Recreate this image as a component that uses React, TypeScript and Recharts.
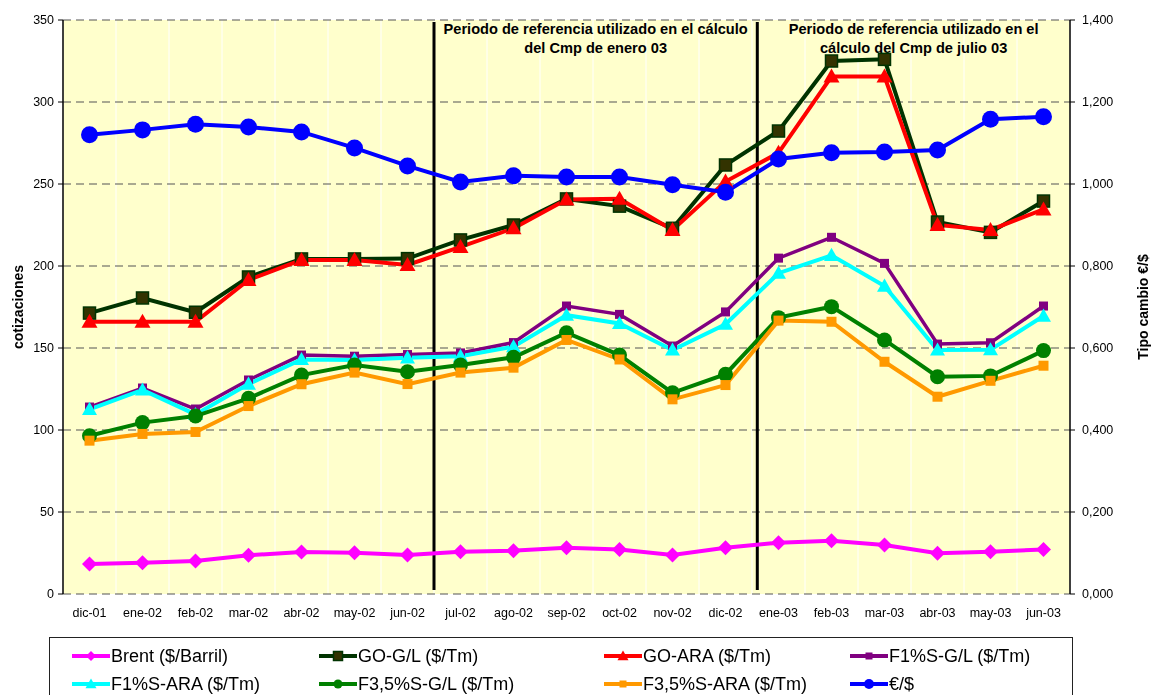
import React from 'react';
import { LineChart, Line, XAxis, YAxis, CartesianGrid, ReferenceLine, ReferenceArea, Legend } from 'recharts';

const months = ['dic-01','ene-02','feb-02','mar-02','abr-02','may-02','jun-02','jul-02','ago-02','sep-02','oct-02','nov-02','dic-02','ene-03','feb-03','mar-03','abr-03','may-03','jun-03'];
const brent = [18.3,19.1,20.1,23.6,25.6,25.2,23.8,25.8,26.4,28.2,27.2,23.8,28.2,31.3,32.5,29.9,24.8,25.8,27.2];
const goGL = [171.3,180.5,171.8,193.3,204.3,204.3,204.5,215.9,225,240.9,236.5,223,261.6,282.3,325,326,226.8,220.5,239.6];
const goARA = [166,166,166,191.5,203.7,203.7,200.6,211.6,223,240.5,241,222,251.5,269,315.5,315.5,225,222,234.5];
const f1GL = [114,125.6,112.8,130.5,145.7,145,146,147,153.3,175.6,170.5,151.2,172,204.8,217.5,201.6,152.4,153.2,175.6];
const f1ARA = [112.6,124.4,109.5,128,143,142.7,144,145,150.8,170,165,148.8,164.5,195.6,206.5,187.8,148.8,149,169.5];
const f35GL = [96.5,104.5,108.5,119.3,133.5,139.6,135.5,139.6,144.3,159.3,145.7,122.7,134,168.5,175.2,154.9,132.5,133,148.4];
const f35ARA = [93.5,97.6,98.8,114.6,127.9,135,128,135,138,154.9,143,118.7,127.4,166.7,166,141.6,120.3,130,139.2];
const euroDollar = [1.120,1.132,1.146,1.139,1.127,1.088,1.044,1.005,1.020,1.017,1.017,0.998,0.980,1.061,1.076,1.078,1.083,1.158,1.164];

const leftTicks = [0, 50, 100, 150, 200, 250, 300, 350];
const rightTicks = [0, 0.2, 0.4, 0.6, 0.8, 1.0, 1.2, 1.4];
const periodBounds = [6.5, 12.6];
const periodTexts = [
  ['Periodo de referencia utilizado en el cálculo', 'del Cmp de enero 03'],
  ['Periodo de referencia utilizado en el', 'cálculo del Cmp de julio 03'],
];
const leftTitle = 'cotizaciones';
const rightTitle = 'Tipo cambio €/$';

const data = months.map((m, i) => ({
  i,
  month: m,
  brent: brent[i],
  goGL: goGL[i],
  goARA: goARA[i],
  f1GL: f1GL[i],
  f1ARA: f1ARA[i],
  f35GL: f35GL[i],
  f35ARA: f35ARA[i],
  eur: euroDollar[i],
}));

type Shape = 'diamond' | 'square' | 'triangle' | 'circle';

const series: {
  key: string; name: string; color: string; fill: string; shape: Shape; size: number; lsize: number; width: number; axis: string; mstroke?: string;
}[] = [
  { key: 'brent', name: 'Brent ($/Barril)', color: '#FF00FF', fill: '#FF00FF', shape: 'diamond', size: 7.5, lsize: 5, width: 4, axis: 'left' },
  { key: 'goGL', name: 'GO-G/L ($/Tm)', color: '#003300', fill: '#333300', shape: 'square', size: 6, lsize: 4.5, width: 4, axis: 'left', mstroke: '#003300' },
  { key: 'goARA', name: 'GO-ARA ($/Tm)', color: '#FF0000', fill: '#FF0000', shape: 'triangle', size: 8, lsize: 5.5, width: 4, axis: 'left' },
  { key: 'f1GL', name: 'F1%S-G/L ($/Tm)', color: '#800080', fill: '#800080', shape: 'square', size: 4.5, lsize: 3.5, width: 3.5, axis: 'left' },
  { key: 'f1ARA', name: 'F1%S-ARA ($/Tm)', color: '#00FFFF', fill: '#00FFFF', shape: 'triangle', size: 7.5, lsize: 5.5, width: 4, axis: 'left' },
  { key: 'f35GL', name: 'F3,5%S-G/L ($/Tm)', color: '#008000', fill: '#008000', shape: 'circle', size: 7.5, lsize: 4.5, width: 4, axis: 'left' },
  { key: 'f35ARA', name: 'F3,5%S-ARA ($/Tm)', color: '#FF9900', fill: '#FF9900', shape: 'square', size: 5, lsize: 3.5, width: 4, axis: 'left' },
  { key: 'eur', name: '€/$', color: '#0000FF', fill: '#0000FF', shape: 'circle', size: 8.5, lsize: 5, width: 4, axis: 'right' },
];

function Marker({ shape, cx, cy, size, fill, stroke }: { shape: Shape; cx: number; cy: number; size: number; fill: string; stroke?: string }) {
  const sw = stroke ? 1.5 : 0;
  const st = stroke || 'none';
  if (shape === 'circle') return <circle cx={cx} cy={cy} r={size} fill={fill} stroke={st} strokeWidth={sw} />;
  if (shape === 'square') return <rect x={cx - size} y={cy - size} width={size * 2} height={size * 2} fill={fill} stroke={st} strokeWidth={sw} />;
  if (shape === 'diamond') return <polygon points={`${cx},${cy - size} ${cx + size},${cy} ${cx},${cy + size} ${cx - size},${cy}`} fill={fill} stroke={st} strokeWidth={sw} />;
  return <polygon points={`${cx},${cy - size} ${cx + size},${cy + size * 0.75} ${cx - size},${cy + size * 0.75}`} fill={fill} stroke={st} strokeWidth={sw} />;
}

const makeDot = (s: typeof series[number]) => (props: any) => {
  const { cx, cy, index } = props;
  if (cx == null || cy == null) return <g key={`d-${s.key}-${index}`} />;
  return (
    <g key={`d-${s.key}-${index}`}>
      <Marker shape={s.shape} cx={cx} cy={cy} size={s.size} fill={s.fill} stroke={s.mstroke} />
    </g>
  );
};

const FONT = '"Liberation Sans", Arial, Helvetica, sans-serif';

const legendCols = [22, 269, 554, 800];
const legendRows = [18, 46];

function LegendBox() {
  return (
    <div style={{ position: 'relative', width: 1024, height: 64, border: '1px solid #222', background: '#fff', boxSizing: 'border-box', fontFamily: FONT }}>
      {series.map((s, idx) => {
        const col = idx % 4;
        const row = Math.floor(idx / 4);
        return (
          <div key={s.key} style={{ position: 'absolute', left: legendCols[col], top: legendRows[row] - 11, height: 22, display: 'flex', alignItems: 'center', whiteSpace: 'nowrap' }}>
            <svg width={38} height={16} style={{ display: 'block' }}>
              <line x1={0} y1={8} x2={38} y2={8} stroke={s.color} strokeWidth={4} />
              <Marker shape={s.shape} cx={19} cy={8} size={s.lsize} fill={s.fill} stroke={s.mstroke} />
            </svg>
            <span style={{ fontSize: 18, color: '#000', marginLeft: 1, lineHeight: '22px' }}>{s.name}</span>
          </div>
        );
      })}
    </div>
  );
}

const periodLabel = (lines: string[]) => (props: any) => {
  const vb = props.viewBox || {};
  const x = vb.x + vb.width / 2;
  const y = vb.y;
  return (
    <text x={x} y={y} textAnchor="middle" fontFamily={FONT} fontWeight="bold" fontSize={14.6} fill="#000">
      <tspan x={x} y={y + 14}>{lines[0]}</tspan>
      <tspan x={x} y={y + 33}>{lines[1]}</tspan>
    </text>
  );
};

const axisTitle = (text: string, cxFromAxisLeft: number) => (props: any) => {
  const vb = props.viewBox || {};
  const x = vb.x + cxFromAxisLeft;
  const y = vb.y + vb.height / 2;
  return (
    <text
      x={x}
      y={y}
      transform={`rotate(-90, ${x}, ${y})`}
      textAnchor="middle"
      dominantBaseline="central"
      fontFamily={FONT}
      fontWeight="bold"
      fontSize={14}
      fill="#000"
    >
      {text}
    </text>
  );
};

const fmtRight = (v: number) => v.toFixed(3).replace('.', ',');

export default function App() {
  const gridTicks = months.map((_, i) => i - 0.5).concat([months.length - 0.5]);
  return (
    <div style={{ position: 'fixed', top: 8, left: 8, width: 1145, height: 687, overflow: 'hidden', fontFamily: FONT }}>
      <LineChart width={1145} height={687} data={data} margin={{ top: 12, right: 0, left: 0, bottom: 71 }} style={{ fontFamily: FONT }}>
        <XAxis
          xAxisId="grid"
          dataKey="i"
          type="number"
          domain={[-0.5, months.length - 0.5]}
          ticks={gridTicks}
          tickFormatter={() => ''}
          height={0}
          tickSize={5}
          axisLine={{ stroke: '#000', strokeWidth: 1.5 }}
          tickLine={{ stroke: '#000', strokeWidth: 1 }}
          allowDataOverflow
        />
        <XAxis
          xAxisId="main"
          dataKey="i"
          type="number"
          domain={[-0.5, months.length - 0.5]}
          ticks={months.map((_, i) => i)}
          tickFormatter={(v: number) => months[v] ?? ''}
          interval={0}
          height={30}
          axisLine={false}
          tickLine={false}
          tickSize={6}
          tickMargin={8}
          tick={{ fill: '#000', fontSize: 12.5, fontFamily: FONT }}
          allowDataOverflow
        />
        <YAxis
          yAxisId="left"
          orientation="left"
          width={55}
          domain={[0, 350]}
          ticks={leftTicks}
          interval={0}
          tickSize={5}
          tickMargin={4}
          axisLine={{ stroke: '#000', strokeWidth: 1.5 }}
          tickLine={{ stroke: '#000' }}
          tick={{ fill: '#000', fontSize: 12.5, fontFamily: FONT }}
          label={{ content: axisTitle(leftTitle, 10) }}
        />
        <YAxis
          yAxisId="right"
          orientation="right"
          width={83}
          domain={[0, 1.4]}
          ticks={rightTicks}
          interval={0}
          tickSize={5}
          tickMargin={7}
          tickFormatter={fmtRight}
          axisLine={{ stroke: '#000', strokeWidth: 1.5 }}
          tickLine={{ stroke: '#000' }}
          tick={{ fill: '#000', fontSize: 12.5, fontFamily: FONT }}
          label={{ content: axisTitle(rightTitle, 73) }}
        />
        <CartesianGrid xAxisId="grid" yAxisId="left" horizontal={false} vertical stroke="#FFFFFF" strokeWidth={1} fill="#FFFFCC" />
        <CartesianGrid xAxisId="grid" yAxisId="left" horizontal vertical={false} stroke="#555555" strokeDasharray="8 5" strokeWidth={1.2} />
        {periodBounds.map((b, k) => (
          <ReferenceArea
            key={`area-${k}`}
            xAxisId="main"
            yAxisId="left"
            x1={b}
            x2={k + 1 < periodBounds.length ? periodBounds[k + 1] : months.length - 0.5}
            y1={0}
            y2={350}
            fill="none"
            fillOpacity={0}
            stroke="none"
            ifOverflow="visible"
            label={periodLabel(periodTexts[k])}
          />
        ))}
        {periodBounds.map((b, k) => (
          <ReferenceLine
            key={`line-${k}`}
            xAxisId="main"
            yAxisId="left"
            segment={[{ x: b, y: 2.4 }, { x: b, y: 348.8 }]}
            stroke="#000"
            strokeWidth={3}
            ifOverflow="visible"
          />
        ))}
        {series.map((s) => (
          <Line
            key={s.key}
            xAxisId="main"
            yAxisId={s.axis}
            type="linear"
            dataKey={s.key}
            name={s.name}
            stroke={s.color}
            strokeWidth={s.width}
            dot={makeDot(s)}
            activeDot={false}
            isAnimationActive={false}
          />
        ))}
        <Legend
          verticalAlign="middle"
          align="center"
          layout="horizontal"
          wrapperStyle={{ left: 41, top: 629, width: 1024, height: 64 }}
          content={() => <LegendBox />}
        />
      </LineChart>
    </div>
  );
}
